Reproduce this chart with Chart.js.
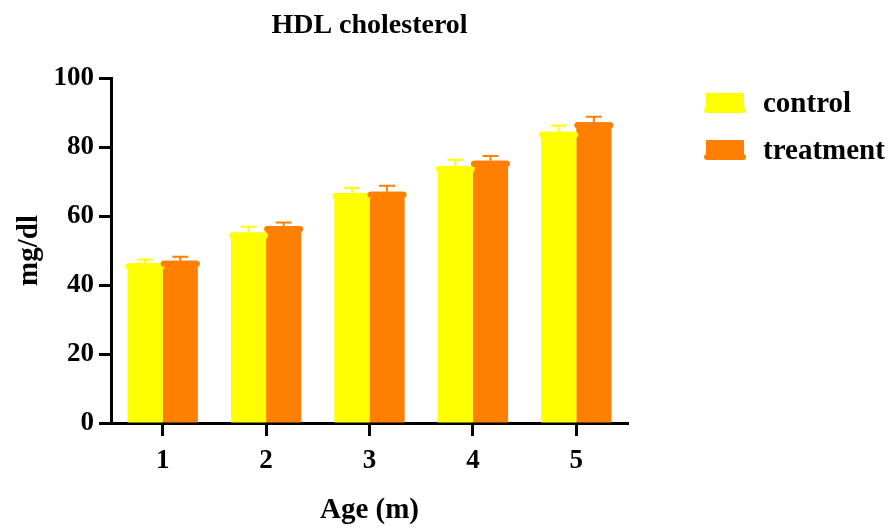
<!DOCTYPE html>
<html>
<head>
<meta charset="utf-8">
<title>HDL cholesterol</title>
<script src="https://cdn.jsdelivr.net/npm/chart.js@4.4.1/dist/chart.umd.min.js"></script>
<style>
  html, body { margin: 0; padding: 0; background: #fff; }
  #wrap { width: 891px; height: 529px; position: relative; }
</style>
</head>
<body>
<div id="wrap"><canvas id="hdlChart"></canvas></div>
<script>
// HDL values per age group (mean and SEM)
const ages = ['1', '2', '3', '4', '5'];
const controlMean = [46.3, 55.2, 66.7, 74.5, 84.4];
const controlSem = [1.1, 1.7, 1.4, 1.8, 1.8];
const treatmentMean = [47.0, 57.1, 67.0, 76.0, 87.2];
const treatmentSem = [1.2, 1.0, 1.8, 1.4, 1.6];
const yMax = 100;
const yStep = 20;

const YELLOW = '#ffff00';
const ORANGE = '#ff8000';
const semSets = [controlSem, treatmentSem];
const FONT = 'Liberation Serif';

Chart.defaults.font.family = FONT;
Chart.defaults.font.weight = 'bold';
Chart.defaults.color = '#000';

function roundRect(ctx, x, y, w, h, r) {
  ctx.beginPath();
  ctx.moveTo(x + r, y);
  ctx.lineTo(x + w - r, y);
  ctx.arcTo(x + w, y, x + w, y + r, r);
  ctx.lineTo(x + w, y + h - r);
  ctx.arcTo(x + w, y + h, x + w - r, y + h, r);
  ctx.lineTo(x + r, y + h);
  ctx.arcTo(x, y + h, x, y + h - r, r);
  ctx.lineTo(x, y + r);
  ctx.arcTo(x, y, x + r, y, r);
  ctx.closePath();
  ctx.fill();
}

// error bars (upper half only) and the little lip on each bar top
const barDecor = {
  id: 'barDecor',
  afterDatasetsDraw(chart) {
    const ctx = chart.ctx;
    const yScale = chart.scales.y;
    chart.data.datasets.forEach((ds, di) => {
      const meta = chart.getDatasetMeta(di);
      meta.data.forEach((bar, i) => {
        const top = bar.y;
        const capY = yScale.getPixelForValue(ds.data[i] + semSets[di][i]);
        ctx.save();
        ctx.strokeStyle = ds.backgroundColor;
        ctx.lineWidth = 2;
        ctx.beginPath();
        ctx.moveTo(bar.x, top);
        ctx.lineTo(bar.x, capY);
        ctx.moveTo(bar.x - 8, capY);
        ctx.lineTo(bar.x + 8, capY);
        ctx.stroke();
        ctx.fillStyle = ds.backgroundColor;
        roundRect(ctx, bar.x - bar.width / 2 - 2, top, bar.width + 4, 6, 3);
        ctx.restore();
      });
    });
  },
  afterDraw(chart) {
    const ctx = chart.ctx;
    const area = chart.chartArea;
    ctx.save();
    // title
    ctx.fillStyle = '#000';
    ctx.font = 'bold 28px ' + FONT;
    ctx.textAlign = 'center';
    ctx.textBaseline = 'middle';
    ctx.fillText('HDL cholesterol', (area.left + area.right) / 2, 26);
    // legend
    ctx.font = 'bold 29px ' + FONT;
    ctx.textAlign = 'left';
    chart.data.datasets.forEach((ds, di) => {
      const y = 93 + di * 47;
      ctx.fillStyle = ds.backgroundColor;
      ctx.fillRect(706, y, 38, 18);
      roundRect(ctx, 704, y + 14, 42, 6, 3);
      ctx.fillStyle = '#000';
      ctx.fillText(ds.label, 763, y + 12);
    });
    ctx.restore();
  }
};

new Chart(document.getElementById('hdlChart'), {
  type: 'bar',
  data: {
    labels: ages,
    datasets: [
      { label: 'control', data: controlMean, backgroundColor: YELLOW },
      { label: 'treatment', data: treatmentMean, backgroundColor: ORANGE }
    ]
  },
  options: {
    responsive: true,
    maintainAspectRatio: false,
    animation: false,
    categoryPercentage: 0.68,
    barPercentage: 1.0,
    layout: { padding: { left: 0, right: 263, top: 78, bottom: 0 } },
    plugins: {
      legend: { display: false },
      title: { display: false },
      tooltip: { enabled: false }
    },
    scales: {
      x: {
        grid: { display: true, drawOnChartArea: false, drawTicks: true, tickLength: 13, tickWidth: 3, tickColor: '#000', offset: false },
        border: { display: true, color: '#000', width: 3 },
        ticks: { color: '#000', font: { size: 27, weight: 'bold' }, padding: 9 },
        title: { display: true, text: 'Age (m)', color: '#000', font: { size: 29, weight: 'bold' }, padding: { top: 0, bottom: 1 } },
        afterFit: s => { s.height = 106; }
      },
      y: {
        min: 0,
        max: yMax,
        ticks: { stepSize: yStep, color: '#000', font: { size: 27, weight: 'bold' }, padding: 5 },
        grid: { display: true, drawOnChartArea: false, drawTicks: true, tickLength: 12, tickWidth: 3, tickColor: '#000' },
        border: { display: true, color: '#000', width: 3 },
        title: { display: true, text: 'mg/dl', color: '#000', font: { size: 29, weight: 'bold' }, padding: { top: 12, bottom: 0 } },
        afterFit: s => { s.width = 111; }
      }
    }
  },
  plugins: [barDecor]
});
</script>
</body>
</html>
